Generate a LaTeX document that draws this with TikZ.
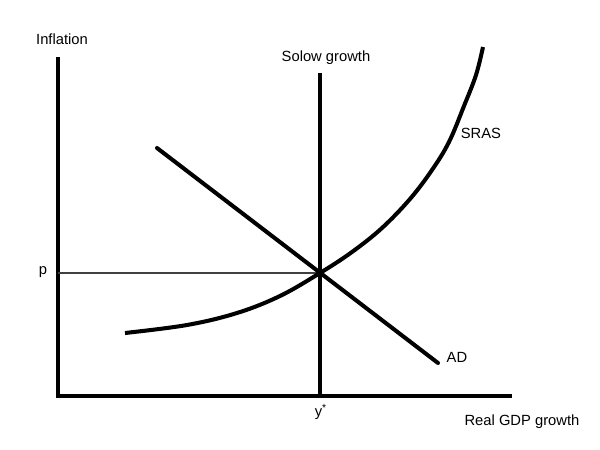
\documentclass[tikz,border=0pt]{standalone}
\usepackage{fontspec}
\setmainfont{Liberation Sans}
\begin{document}
\begin{tikzpicture}[x=0.02cm,y=-0.02cm,
  axis/.style={line width=2.7pt,line join=miter},
  curve/.style={line width=2.3pt},
  guide/.style={line width=0.6pt,black!75},
  lbl/.style={font=\fontsize{8.4}{10}\selectfont,inner sep=0pt}]
\useasboundingbox (0,0) rectangle (600,450);
% axes
\coordinate (ytop) at (58,57);
\coordinate (origin) at (58,396);
\coordinate (xend) at (512,396);
\draw[axis] (ytop) -- (origin) -- (xend);
% Solow growth line
\coordinate (stop) at (320,73);
\coordinate (sbot) at (320,396);
\draw[curve] (stop) -- (sbot);
% equilibrium
\coordinate (eq) at (320,273);
\coordinate (pleft) at (58,273);
\draw[guide] (pleft) -- (eq);
% AD
\coordinate (adstart) at (157,148);
\coordinate (adend) at (438,363);
\draw[curve,line cap=round] (adstart) -- (adend);
% SRAS
\draw[curve] plot[smooth,tension=0.6] coordinates {(125,333) (187,325) (237,313) (280,296) (320,273) (352,252) (382,228) (410,199) (432,170) (449,142) (464,106) (476,75) (483,47)};
% labels
\node[lbl] (inflation) at (62,39) {Inflation};
\node[lbl] (solow) at (326,58) {Solow growth};
\node[lbl] (sras) at (481,133) {SRAS};
\node[lbl] (p) at (43,272) {p};
\node[lbl] (ad) at (457,357) {AD};
\node[lbl] (ystar) at (321,412) {y\textsuperscript{*}};
\node[lbl] (gdp) at (522,422) {Real GDP growth};
\end{tikzpicture}
\end{document}
